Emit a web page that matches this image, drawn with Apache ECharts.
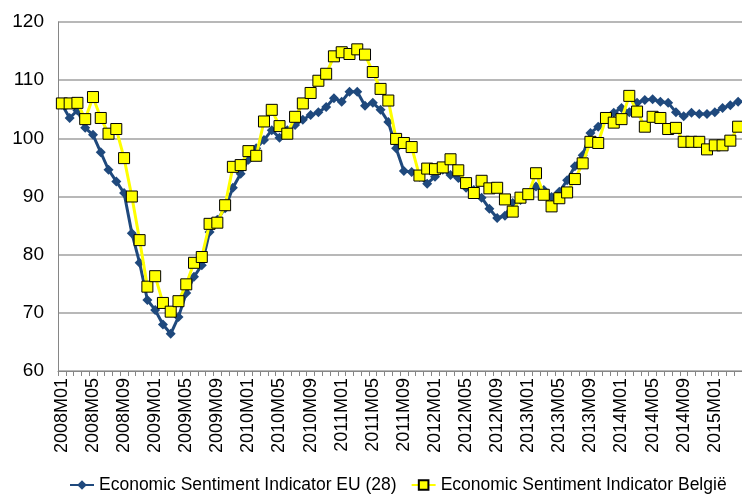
<!DOCTYPE html>
<html>
<head>
<meta charset="utf-8">
<script src="https://cdn.jsdelivr.net/npm/echarts@6/dist/echarts.min.js"></script>
<style>
  html, body { margin: 0; padding: 0; background: #fff; }
  #chart { width: 742px; height: 496px; }
</style>
</head>
<body>
<div id="chart"></div>
<script>
// 月份 2008M01 .. 2015M04
const months = [];
for (let y = 2008; y <= 2015; y++) {
  for (let m = 1; m <= 12; m++) {
    if (y === 2015 && m > 4) break;
    months.push(y + 'M' + (m < 10 ? '0' + m : m));
  }
}

const euValues = [
  105.8, 103.5, 104.8, 101.8, 100.6, 97.6, 94.6, 92.6, 90.6, 83.7,
  78.6, 72.2, 70.5, 68.0, 66.4, 69.3, 73.4, 76.2, 78.2, 83.9,
  86.0, 88.0, 91.5, 93.9, 96.3, 98.3, 99.7, 101.4, 100.1, 101.4,
  102.3, 103.2, 104.0, 104.5, 105.4, 106.9, 106.3, 108.0, 108.0, 105.6,
  106.1, 104.9, 102.8, 98.3, 94.4, 94.2, 93.4, 92.2, 93.4, 94.6,
  93.7, 93.2, 91.5, 91.1, 89.8, 87.9, 86.3, 86.7, 88.9, 89.4,
  90.6, 91.7, 91.1, 89.9, 90.8, 92.8, 95.2, 97.1, 100.9, 102.0,
  103.5, 104.4, 105.2, 104.5, 106.1, 106.6, 106.7, 106.3, 106.1, 104.5,
  103.8, 104.4, 104.2, 104.2, 104.5, 105.2, 105.7, 106.3
];

const beValues = [
  106.0, 106.0, 106.1, 103.3, 107.1, 103.5, 100.8, 101.6, 96.6, 90.0,
  82.5, 74.5, 76.3, 71.7, 70.2, 72.0, 74.9, 78.6, 79.6, 85.3,
  85.5, 88.5, 95.1, 95.4, 97.8, 97.0, 102.9, 104.9, 102.1, 100.8,
  103.7, 106.0, 107.8, 109.9, 111.1, 114.1, 114.8, 114.5, 115.3, 114.4,
  111.4, 108.5, 106.5, 99.9, 99.2, 98.5, 93.6, 94.8, 94.7, 95.0,
  96.4, 94.5, 92.3, 90.6, 92.7, 91.4, 91.5, 89.5, 87.4, 89.8,
  90.4, 94.0, 90.3, 88.3, 89.7, 90.7, 93.0, 95.7, 99.4, 99.2,
  103.5, 102.7, 103.3, 107.3, 104.6, 102.0, 103.7, 103.5, 101.6, 101.8,
  99.4, 99.4, 99.4, 98.1, 98.8, 98.8, 99.6, 102.0
];

const yMin = 60, yMax = 120, yStep = 10;
const font = "'Liberation Sans', Arial, sans-serif";

const chart = echarts.init(document.getElementById('chart'));

const option = {
  animation: false,
  backgroundColor: '#fff',
  textStyle: { fontFamily: font },
  grid: {
    left: 58,
    right: -8,
    top: 22,
    bottom: 125,
    containLabel: false
  },
  legend: {
    bottom: -3,
    left: 64,
    width: 676,
    itemGap: 14,
    itemWidth: 24,
    itemHeight: 12,
    textStyle: { fontFamily: font, fontSize: 17.5, color: '#000' },
    data: ['Economic Sentiment Indicator EU (28)', 'Economic Sentiment Indicator België']
  },
  xAxis: {
    type: 'category',
    data: months,
    boundaryGap: true,
    axisLine: { lineStyle: { color: '#868686', width: 1 } },
    axisTick: { show: true, interval: 0, length: 5, lineStyle: { color: '#868686' } },
    axisLabel: {
      interval: 3,
      rotate: 90,
      margin: 7,
      fontFamily: font,
      fontSize: 18,
      color: '#000'
    },
    splitLine: { show: false }
  },
  yAxis: {
    type: 'value',
    min: yMin,
    max: yMax,
    interval: yStep,
    axisLine: { show: true, lineStyle: { color: '#868686', width: 1 } },
    axisTick: { show: false },
    axisLabel: { fontFamily: font, fontSize: 19, color: '#000', margin: 14 },
    splitLine: { lineStyle: { color: '#a0a0a0', width: 1.5 } }
  },
  series: [
    {
      name: 'Economic Sentiment Indicator EU (28)',
      type: 'line',
      data: euValues,
      symbol: 'diamond',
      symbolSize: 10,
      showAllSymbol: true,
      lineStyle: { color: '#1f497d', width: 3 },
      itemStyle: { color: '#1f497d', borderWidth: 0 },
      z: 2
    },
    {
      name: 'Economic Sentiment Indicator België',
      type: 'line',
      data: beValues,
      symbol: 'rect',
      symbolSize: 11,
      showAllSymbol: true,
      lineStyle: { color: '#ffff00', width: 3 },
      itemStyle: { color: '#ffff00', borderColor: '#000', borderWidth: 1 },
      z: 3
    }
  ]
};

chart.setOption(option);
</script>
</body>
</html>
